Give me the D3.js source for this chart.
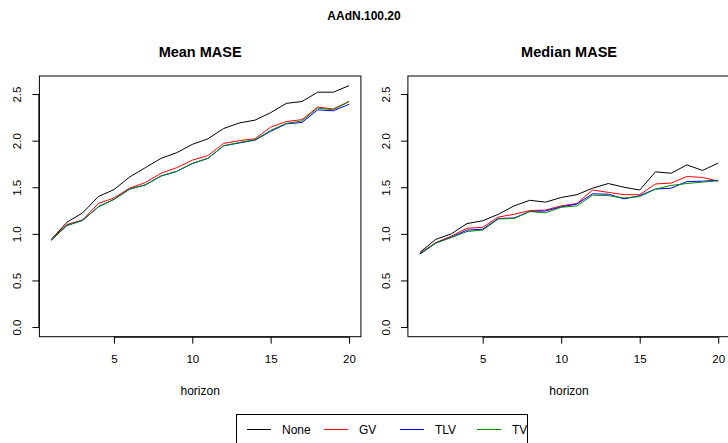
<!DOCTYPE html>
<html>
<head>
<meta charset="utf-8">
<script src="https://cdn.jsdelivr.net/npm/d3@7"></script>
<style>
  body { margin: 0; background: #fff; }
  text { font-family: "Liberation Sans", Arial, sans-serif; fill: #000; }
</style>
</head>
<body>
<div id="chart"></div>
<script>
// data
const horizon = d3.range(1, 21);
const seriesNames = ['None', 'GV', 'TLV', 'TV'];
const seriesColors = ['#000000', '#ff0000', '#0000ff', '#008b00'];

const meanNone = [0.94, 1.125, 1.225, 1.40, 1.475, 1.61, 1.71, 1.81, 1.87, 1.96, 2.02, 2.13, 2.19, 2.22, 2.30, 2.40, 2.42, 2.52, 2.52, 2.59];
const meanGV   = [0.94, 1.10, 1.15, 1.325, 1.385, 1.49, 1.55, 1.65, 1.71, 1.79, 1.84, 1.97, 2.00, 2.02, 2.145, 2.205, 2.225, 2.36, 2.34, 2.42];
const meanTLV  = [0.93, 1.09, 1.145, 1.29, 1.37, 1.48, 1.525, 1.62, 1.67, 1.755, 1.81, 1.945, 1.975, 2.005, 2.10, 2.18, 2.195, 2.33, 2.32, 2.39];
const meanTV   = [0.935, 1.09, 1.145, 1.29, 1.37, 1.48, 1.525, 1.62, 1.67, 1.755, 1.81, 1.945, 1.98, 2.01, 2.11, 2.185, 2.21, 2.35, 2.33, 2.42];

const medNone = [0.80, 0.94, 1.00, 1.11, 1.14, 1.21, 1.30, 1.36, 1.34, 1.39, 1.42, 1.49, 1.54, 1.50, 1.47, 1.665, 1.65, 1.74, 1.68, 1.76];
const medGV   = [0.79, 0.905, 0.975, 1.06, 1.07, 1.18, 1.21, 1.25, 1.255, 1.30, 1.325, 1.47, 1.445, 1.42, 1.42, 1.535, 1.545, 1.615, 1.605, 1.565];
const medTLV  = [0.785, 0.90, 0.965, 1.04, 1.05, 1.165, 1.17, 1.24, 1.245, 1.29, 1.32, 1.43, 1.425, 1.375, 1.41, 1.48, 1.49, 1.56, 1.565, 1.575];
const medTV   = [0.78, 0.90, 0.96, 1.025, 1.04, 1.16, 1.165, 1.24, 1.225, 1.285, 1.30, 1.415, 1.41, 1.385, 1.40, 1.48, 1.52, 1.54, 1.555, 1.57];

const xTicks = [5, 10, 15, 20];
const yTicks = [0, 0.5, 1, 1.5, 2, 2.5];

const W = 728, H = 443;
const svg = d3.select('#chart').append('svg')
    .attr('width', W)
    .attr('height', H);

svg.append('text')
    .attr('x', 364).attr('y', 20)
    .attr('text-anchor', 'middle')
    .style('font-weight', 'bold')
    .style('font-size', '12px')
    .text('AAdN.100.20');

// R style 4% padding on both axes
const xlim = [1, 20], ylim = [0, 2.59];
const xPad = 0.04 * (xlim[1] - xlim[0]), yPad = 0.04 * (ylim[1] - ylim[0]);

const panels = [
    {title: 'Mean MASE', left: 39.4, right: 360.9, data: [meanNone, meanGV, meanTLV, meanTV]},
    {title: 'Median MASE', left: 407.9, right: 730.2, data: [medNone, medGV, medTLV, medTV]}
];
const plotTop = 76, plotBottom = 336.7;

panels.forEach(p => {
    const x = d3.scaleLinear().domain([xlim[0] - xPad, xlim[1] + xPad]).range([p.left, p.right]);
    const y = d3.scaleLinear().domain([ylim[0] - yPad, ylim[1] + yPad]).range([plotBottom, plotTop]);
    const g = svg.append('g');

    g.append('text')
        .attr('x', (p.left + p.right) / 2).attr('y', 57)
        .attr('text-anchor', 'middle')
        .style('font-weight', 'bold')
        .style('font-size', '14.5px')
        .text(p.title);

    // x axis
    const xa = g.append('g').attr('transform', `translate(0,${plotBottom})`)
        .call(d3.axisBottom(x).tickValues(xTicks).tickSize(7).tickPadding(11).tickFormat(d3.format('d')));
    xa.select('.domain').attr('d', `M${x(5)},0.5H${x(20)}`).attr('stroke', '#000');
    xa.selectAll('text').style('font-size', '11.5px').style('font-family', '"Liberation Sans", Arial, sans-serif');

    // y axis, labels rotated as in R
    const ya = g.append('g').attr('transform', `translate(${p.left},0)`)
        .call(d3.axisLeft(y).tickValues(yTicks).tickSize(7).tickFormat(d3.format('.1f')));
    ya.select('.domain').attr('d', `M-0.5,${y(0)}V${y(2.5)}`).attr('stroke', '#000');
    ya.selectAll('.tick text')
        .attr('x', 0).attr('dy', null).attr('y', 0)
        .attr('text-anchor', 'middle')
        .attr('transform', 'translate(-18,0) rotate(-90)')
        .style('font-size', '11.5px')
        .style('font-family', '"Liberation Sans", Arial, sans-serif');

    // box
    g.append('rect')
        .attr('x', p.left).attr('y', plotTop)
        .attr('width', p.right - p.left).attr('height', plotBottom - plotTop)
        .attr('fill', 'none').attr('stroke', '#000').attr('stroke-width', 1);

    g.append('text')
        .attr('x', (p.left + p.right) / 2).attr('y', 395)
        .attr('text-anchor', 'middle')
        .style('font-size', '12px')
        .text('horizon');

    const line = d3.line().x((d, i) => x(horizon[i])).y(d => y(d));
    p.data.forEach((s, k) => {
        g.append('path')
            .datum(s)
            .attr('d', line)
            .attr('fill', 'none')
            .attr('stroke', seriesColors[k])
            .attr('stroke-width', 1);
    });
});

// legend
const lg = svg.append('g');
lg.append('rect')
    .attr('x', 236.5).attr('y', 414.5)
    .attr('width', 291).attr('height', 40)
    .attr('fill', 'none').attr('stroke', '#000');
const legX = [247, 324, 400, 477];
seriesNames.forEach((n, i) => {
    lg.append('line')
        .attr('x1', legX[i]).attr('x2', legX[i] + 24)
        .attr('y1', 429.5).attr('y2', 429.5)
        .attr('stroke', seriesColors[i])
        .attr('stroke-width', 1);
    lg.append('text')
        .attr('x', legX[i] + 35).attr('y', 434)
        .style('font-size', '12px')
        .text(n);
});
</script>
</body>
</html>
